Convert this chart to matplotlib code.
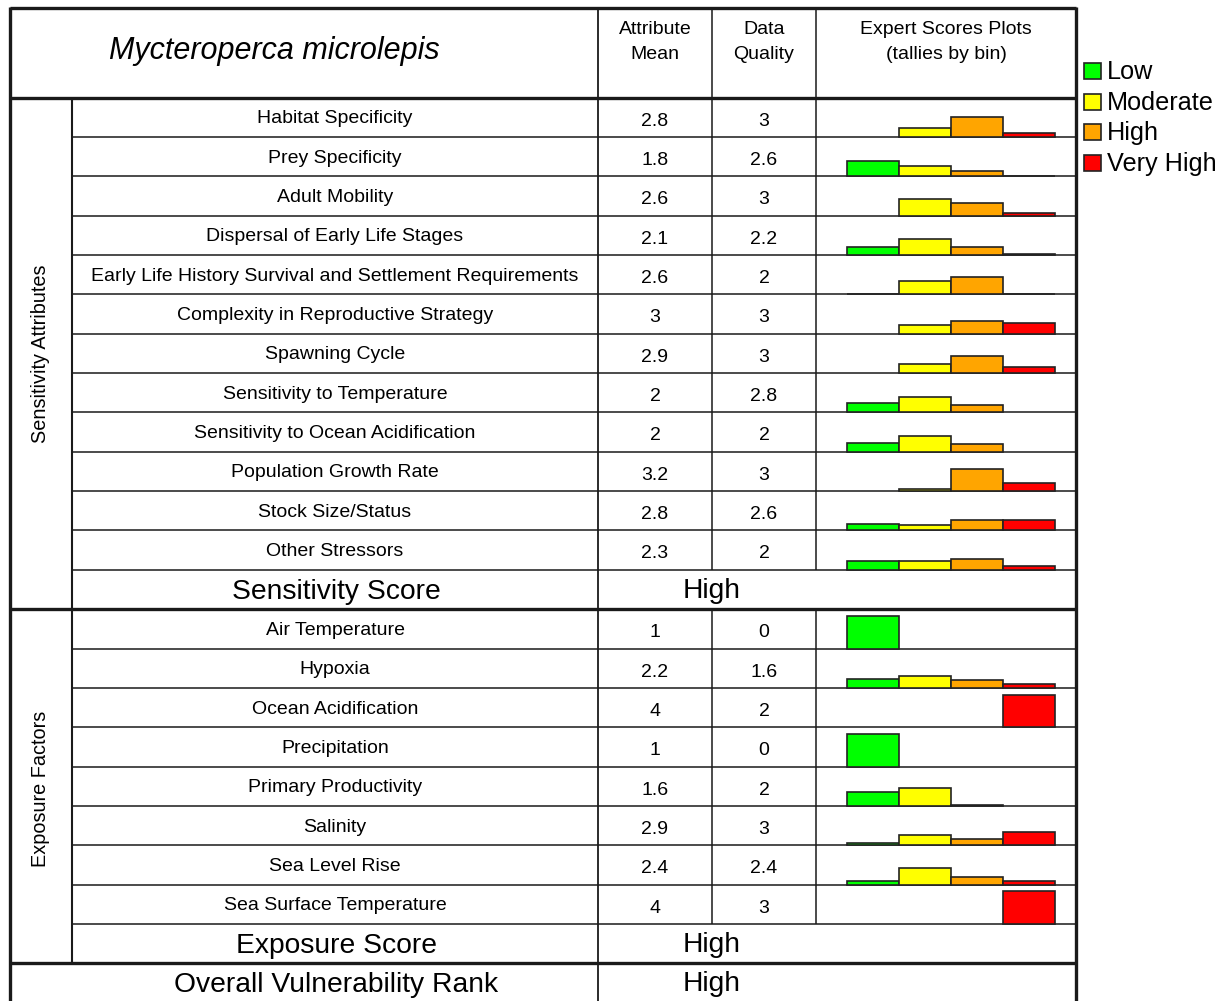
import matplotlib
matplotlib.use("Agg")
import matplotlib.pyplot as plt
from matplotlib.patches import Rectangle
import numpy as np

plt.rcParams['font.family'] = ['Liberation Sans', 'DejaVu Sans']

species = "Mycteroperca microlepis"

sens_attributes = ["Habitat Specificity", "Prey Specificity", "Adult Mobility",
                   "Dispersal of Early Life Stages",
                   "Early Life History Survival and Settlement Requirements",
                   "Complexity in Reproductive Strategy", "Spawning Cycle",
                   "Sensitivity to Temperature", "Sensitivity to Ocean Acidification",
                   "Population Growth Rate", "Stock Size/Status", "Other Stressors"]
sens_mean = ["2.8", "1.8", "2.6", "2.1", "2.6", "3", "2.9", "2", "2", "3.2", "2.8", "2.3"]
sens_dq = ["3", "2.6", "3", "2.2", "2", "3", "3", "2.8", "2", "3", "2.6", "2"]
# tallies per bin: Low, Moderate, High, Very High  (0 = not drawn)
sens_low = [0, 12, 0, 6, 0.4, 0, 0, 7, 7, 0, 5, 7]
sens_mod = [7, 8, 13, 12, 10, 7, 7, 12, 12, 2, 4, 7]
sens_high = [15, 4, 10, 6, 13, 10, 13, 6, 6, 17, 8, 8]
sens_vhigh = [3, 0.5, 2, 0.4, 0.4, 8, 5, 0, 0, 6, 8, 3]

exp_factors = ["Air Temperature", "Hypoxia", "Ocean Acidification", "Precipitation",
               "Primary Productivity", "Salinity", "Sea Level Rise",
               "Sea Surface Temperature"]
exp_mean = ["1", "2.2", "4", "1", "1.6", "2.9", "2.4", "4"]
exp_dq = ["0", "1.6", "2", "0", "2", "3", "2.4", "3"]
exp_low = [25, 7, 0, 25, 11, 2, 3, 0]
exp_mod = [0, 9, 0, 0, 14, 8, 13, 0]
exp_high = [0, 6, 0, 0, 0.4, 5, 6, 0]
exp_vhigh = [0, 3, 25, 0, 0, 10, 3, 25]

sens_score = "High"
exp_score = "High"
overall_rank = "High"

bins = ["Low", "Moderate", "High", "Very High"]
bin_colors = ["#00FF00", "#FFFF00", "#FFA500", "#FF0000"]

W, Hfig = 1231, 1001
fig = plt.figure(figsize=(W / 100, Hfig / 100), dpi=100)
ax = fig.add_axes([0, 0, 1, 1])
ax.set_xlim(0, W)
ax.set_ylim(Hfig, 0)
ax.axis("off")

# geometry (pixels)
xL, xG, xN, xM, xD, xR = 10, 72, 598, 712, 816, 1076
yT, yH = 8, 97.6
rh = 39.35
ns, ne = len(sens_attributes), len(exp_factors)
y_sens_end = yH + ns * rh
y_sscore_end = y_sens_end + rh
y_exp_end = y_sscore_end + ne * rh
y_escore_end = y_exp_end + rh
y_bottom = y_escore_end + rh

thick, thin = 2.4, 1.1
lc = "#1a1a1a"

def hline(y, x0, x1, lw):
    ax.plot([x0, x1], [y, y], color=lc, lw=lw, solid_capstyle="butt")

def vline(x, y0, y1, lw):
    ax.plot([x, x], [y0, y1], color=lc, lw=lw, solid_capstyle="butt")

# row lines
for k in range(1, ns):
    hline(yH + k * rh, xG, xR, thin)
hline(y_sens_end, xG, xR, thin)
for k in range(1, ne):
    hline(y_sscore_end + k * rh, xG, xR, thin)
hline(y_exp_end, xG, xR, thin)
hline(yH, xL, xR, thick)
hline(y_sscore_end, xL, xR, thick)
hline(y_escore_end, xL, xR, thick)

vline(xG, yH, y_escore_end, 1.5)
vline(xN, yT, y_bottom + 5, 1.3)
for x in (xM, xD):
    vline(x, yT, y_sens_end, thin)
    vline(x, y_sscore_end, y_exp_end, thin)

# outer border
vline(xL, yT - 1, y_bottom + 5, thick)
vline(xR, yT - 1, y_bottom + 5, thick)
hline(yT, xL, xR, thick)

fs = 14
# header
ax.text(274, 59, species, style="italic", fontsize=22, ha="center", va="baseline")
ax.text((xN + xM) / 2, 34.3, "Attribute", fontsize=fs, ha="center", va="baseline")
ax.text((xN + xM) / 2, 59, "Mean", fontsize=fs, ha="center", va="baseline")
ax.text((xM + xD) / 2, 34.3, "Data", fontsize=fs, ha="center", va="baseline")
ax.text((xM + xD) / 2, 59, "Quality", fontsize=fs, ha="center", va="baseline")
ax.text((xD + xR) / 2, 34.3, "Expert Scores Plots", fontsize=fs, ha="center", va="baseline")
ax.text((xD + xR) / 2, 59, "(tallies by bin)", fontsize=fs, ha="center", va="baseline")

# group labels
ax.text((xL + xG) / 2, (yH + y_sscore_end) / 2, "Sensitivity Attributes", rotation=90,
        fontsize=14.3, ha="center", va="center")
ax.text((xL + xG) / 2, (y_sscore_end + y_escore_end) / 2 + 3, "Exposure Factors", rotation=90,
        fontsize=14.3, ha="center", va="center")

cx_name = (xG + xN) / 2
cx_mean = (xN + xM) / 2
cx_dq = (xM + xD) / 2

px_per_tally = 1.3

def draw_bars(y_bottom_row, vals):
    left = 847 / W
    width = 208 / W
    bottom = (Hfig - y_bottom_row) / Hfig
    height = rh / Hfig
    a = fig.add_axes([left, bottom, width, height])
    a.set_xlim(0, 4)
    a.set_ylim(0, rh / px_per_tally)
    a.axis("off")
    for i, v in enumerate(vals):
        if v > 0:
            a.bar(i, v, width=1, align="edge", color=bin_colors[i],
                  edgecolor="#222222", linewidth=1.2, clip_on=False)

def draw_row(top, name, mean, dq, vals):
    ax.text(cx_name, top + 25.7, name, fontsize=fs, ha="center", va="baseline")
    ax.text(cx_mean, top + 28, mean, fontsize=fs, ha="center", va="baseline")
    ax.text(cx_dq, top + 28, dq, fontsize=fs, ha="center", va="baseline")
    draw_bars(top + rh, vals)

for k in range(ns):
    draw_row(yH + k * rh, sens_attributes[k], sens_mean[k], sens_dq[k],
             [sens_low[k], sens_mod[k], sens_high[k], sens_vhigh[k]])
for k in range(ne):
    draw_row(y_sscore_end + k * rh, exp_factors[k], exp_mean[k], exp_dq[k],
             [exp_low[k], exp_mod[k], exp_high[k], exp_vhigh[k]])

def score_row(top, label, value):
    ax.text(336, top + 29, label, fontsize=20.3, ha="center", va="baseline")
    ax.text(712, top + 28, value, fontsize=20.3, ha="center", va="baseline")

score_row(y_sens_end, "Sensitivity Score", sens_score)
score_row(y_exp_end, "Exposure Score", exp_score)
score_row(y_escore_end, "Overall Vulnerability Rank", overall_rank)

# legend
for i, (lab, col) in enumerate(zip(bins, bin_colors)):
    yb = 79 + i * 30.5
    ax.add_patch(Rectangle((1084, yb - 16), 17, 16, facecolor=col, edgecolor="#222222", lw=1.2))
    ax.text(1107, yb, lab, fontsize=18.2, ha="left", va="baseline")

fig.savefig("out.png", dpi=100)
